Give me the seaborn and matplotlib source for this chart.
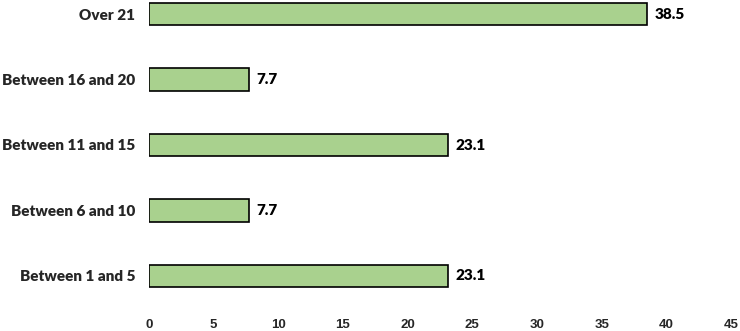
import matplotlib
matplotlib.use("Agg")
import matplotlib.pyplot as plt
import seaborn as sns
import pandas as pd

categories = ["Over 21", "Between 16 and 20", "Between 11 and 15", "Between 6 and 10", "Between 1 and 5"]
values = [38.5, 7.7, 23.1, 7.7, 23.1]
xticks = [0, 5, 10, 15, 20, 25, 30, 35, 40, 45]

df = pd.DataFrame({"cat": categories, "val": values})

sns.set_theme(style="white")
plt.rcParams['font.family'] = ['Lato', 'DejaVu Sans']

fig = plt.figure(figsize=(7.4, 3.31), dpi=100)
ax = fig.add_axes([149/740, 41/331, 582/740, 290/331])
sns.barplot(data=df, y="cat", x="val", order=categories, orient="h",
            color="#a9d18e", saturation=1, edgecolor="black", linewidth=1.2,
            width=0.34, ax=ax)

for i, v in enumerate(values):
    ax.text(v + 0.6, i, f"{v}", va="center", ha="left", fontsize=11,
            fontweight="heavy", color="black")

ax.set_xlim(0, 45)
ax.set_ylim(4.214, -0.214)
ax.set_xticks(xticks)
ax.set_xticklabels([str(t) for t in xticks], fontfamily="Liberation Sans",
                   fontweight="bold", fontsize=9.5)
ax.tick_params(axis="x", length=0, pad=21)
ax.tick_params(axis="y", length=0, pad=10)
for lbl in ax.get_yticklabels():
    lbl.set_fontweight("heavy")
    lbl.set_fontsize(11)
ax.set_xlabel("")
ax.set_ylabel("")
for s in ax.spines.values():
    s.set_visible(False)
ax.grid(False)

fig.savefig("out.png", dpi=100)
